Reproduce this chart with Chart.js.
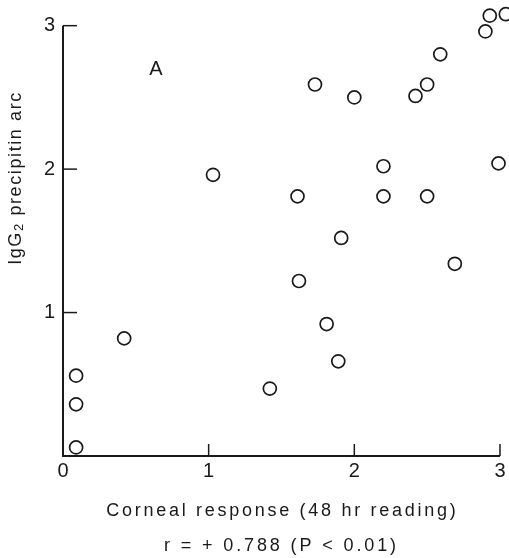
<!DOCTYPE html>
<html>
<head>
<meta charset="utf-8">
<script src="https://cdn.jsdelivr.net/npm/chart.js@4.4.1/dist/chart.umd.min.js"></script>
<style>
    html, body { margin: 0; padding: 0; background: #ffffff; }
    #wrap { width: 509px; height: 558px; position: relative; }
</style>
</head>
<body>
<div id="wrap"><canvas id="chart" width="509" height="558"></canvas></div>
<script>
// Corneal response (x) vs IgG2 precipitin arc (y)
const cornealResponse = [
    2.93, 3.04, 2.90, 2.59, 1.73, 2.00, 2.50, 2.42, 2.99, 2.20,
    1.61, 2.20, 2.50, 1.91, 1.03, 0.42, 0.09, 0.09, 0.09, 2.69,
    1.62, 1.81, 1.89, 1.42
];
const precipitinArc = [
    3.07, 3.08, 2.96, 2.80, 2.59, 2.50, 2.59, 2.51, 2.04, 2.02,
    1.81, 1.81, 1.81, 1.52, 1.96, 0.82, 0.56, 0.36, 0.06, 1.34,
    1.22, 0.92, 0.66, 0.47
];

const xTicks = [0, 1, 2, 3];
const yTicks = [1, 2, 3];
const xAxisLines = ['Corneal response (48 hr reading)', 'r = + 0.788 (P < 0.01)'];
const yAxisTitle = ['IgG', '2', ' precipitin arc'];
const panelLabel = 'A';

const FONT = '"Liberation Sans", Arial, sans-serif';
const INK = '#1a1a1a';

// axis lines + inward ticks, drawn through the scales
const axesPlugin = {
    id: 'axesPlugin',
    afterDatasetsDraw(chart) {
        const ctx = chart.ctx;
        const xs = chart.scales.x;
        const ys = chart.scales.y;
        const x0 = xs.getPixelForValue(0);
        const x3 = xs.getPixelForValue(3);
        const y0 = ys.getPixelForValue(0);
        const y3 = ys.getPixelForValue(3);

        ctx.save();
        ctx.strokeStyle = INK;
        ctx.lineWidth = 2;
        ctx.beginPath();
        ctx.moveTo(x0, y3);
        ctx.lineTo(x0, y0);
        ctx.lineTo(x3, y0);
        ctx.stroke();

        ctx.lineWidth = 1.5;
        yTicks.forEach(v => {
            const py = ys.getPixelForValue(v);
            ctx.beginPath();
            ctx.moveTo(x0, py);
            ctx.lineTo(x0 + 14, py);
            ctx.stroke();
        });
        xTicks.slice(1).forEach(v => {
            const px = xs.getPixelForValue(v);
            ctx.beginPath();
            ctx.moveTo(px, y0);
            ctx.lineTo(px, y0 - 12);
            ctx.stroke();
        });
        ctx.restore();
    }
};

function spacedText(ctx, text, cx, y, targetWidth) {
    ctx.letterSpacing = '0px';
    const w = ctx.measureText(text).width;
    const sp = Math.max(0, (targetWidth - w) / text.length);
    ctx.letterSpacing = sp + 'px';
    ctx.textAlign = 'center';
    ctx.fillText(text, cx + sp / 2, y);
    ctx.letterSpacing = '0px';
}

// axis titles and panel letter
const labelsPlugin = {
    id: 'labelsPlugin',
    afterDraw(chart) {
        const ctx = chart.ctx;
        ctx.save();
        ctx.fillStyle = INK;
        ctx.textBaseline = 'alphabetic';

        ctx.font = '18px ' + FONT;
        spacedText(ctx, xAxisLines[0], 281, 516, 352);
        spacedText(ctx, xAxisLines[1], 280, 551, 235);

        ctx.font = '20px ' + FONT;
        ctx.textAlign = 'center';
        ctx.fillText(panelLabel, 156, 75);

        // rotated y title with subscript
        ctx.translate(21, 178);
        ctx.rotate(-Math.PI / 2);
        ctx.font = '18px ' + FONT;
        ctx.letterSpacing = '1.6px';
        const wA = ctx.measureText(yAxisTitle[0]).width;
        const wC = ctx.measureText(yAxisTitle[2]).width;
        ctx.font = '13px ' + FONT;
        const wB = ctx.measureText(yAxisTitle[1]).width;
        let x = -(wA + wB + wC) / 2;
        ctx.textAlign = 'left';
        ctx.font = '18px ' + FONT;
        ctx.fillText(yAxisTitle[0], x, 0);
        x += wA;
        ctx.font = '13px ' + FONT;
        ctx.fillText(yAxisTitle[1], x, 2);
        x += wB;
        ctx.font = '18px ' + FONT;
        ctx.fillText(yAxisTitle[2], x, 0);
        ctx.restore();
    }
};

const points = cornealResponse.map((v, i) => ({ x: v, y: precipitinArc[i] }));

new Chart(document.getElementById('chart').getContext('2d'), {
    type: 'scatter',
    data: {
        datasets: [{
            data: points,
            pointStyle: 'circle',
            pointRadius: 6.5,
            pointHoverRadius: 6.5,
            pointBorderWidth: 1.7,
            pointBorderColor: INK,
            pointBackgroundColor: 'rgba(0,0,0,0)'
        }]
    },
    options: {
        responsive: false,
        animation: false,
        events: [],
        layout: { padding: 0, autoPadding: false },
        plugins: {
            legend: { display: false },
            tooltip: { enabled: false }
        },
        scales: {
            x: {
                type: 'linear',
                min: 0,
                max: 3.062,
                afterBuildTicks: (scale) => { scale.ticks = xTicks.map(v => ({ value: v })); },
                afterFit: (scale) => { scale.height = 102; scale.paddingRight = 0; scale.paddingLeft = 0; },
                grid: { display: false, drawTicks: false },
                border: { display: false },
                ticks: {
                    color: INK,
                    padding: 3,
                    maxRotation: 0,
                    font: { family: FONT, size: 20 }
                }
            },
            y: {
                type: 'linear',
                min: 0,
                max: 3.179,
                afterBuildTicks: (scale) => { scale.ticks = yTicks.map(v => ({ value: v })); },
                afterFit: (scale) => { scale.width = 63; scale.paddingTop = 0; scale.paddingBottom = 0; },
                grid: { display: false, drawTicks: false },
                border: { display: false },
                ticks: {
                    color: INK,
                    padding: 8,
                    font: { family: FONT, size: 20 }
                }
            }
        }
    },
    plugins: [axesPlugin, labelsPlugin]
});
</script>
</body>
</html>
